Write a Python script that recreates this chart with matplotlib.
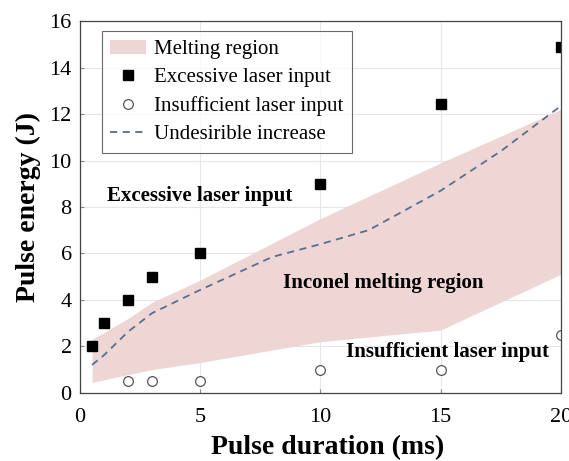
import numpy as np
import matplotlib
matplotlib.use('Agg')
import matplotlib.pyplot as plt

# melting region boundaries
region_x = [0.5, 2, 3, 5, 10, 15, 20]
region_upper = [2.3, 3.2, 3.9, 4.85, 7.5, 9.9, 12.2]
region_lower = [0.45, 0.78, 1.0, 1.3, 2.2, 2.7, 5.1]

# excessive laser input points
exc_x = [0.5, 1, 2, 3, 5, 10, 15, 20]
exc_y = [2.0, 3.0, 4.0, 5.0, 6.0, 9.0, 12.45, 14.9]

# insufficient laser input points
ins_x = [2, 3, 5, 10, 15, 20]
ins_y = [0.5, 0.5, 0.5, 1.0, 1.0, 2.5]

# undesirible increase curve
curve_x = [0.5, 1, 2, 3, 5, 8, 10, 12, 15, 17.5, 20]
curve_y = [1.2, 1.62, 2.63, 3.43, 4.43, 5.85, 6.4, 7.0, 8.7, 10.4, 12.35]

plt.rcParams['font.family'] = ['Liberation Serif', 'DejaVu Serif']

fig = plt.figure(figsize=(5.69, 4.61), dpi=100)
ax = fig.add_axes([0.1406, 0.148, 0.845, 0.806])

ax.fill_between(region_x, region_lower, region_upper, color='#eed6d4', linewidth=0,
                label='Melting region')
ax.plot(exc_x, exc_y, 's', color='black', markersize=6.5, label='Excessive laser input')
ax.plot(ins_x, ins_y, 'o', markerfacecolor='white', markeredgecolor='#555555',
        markersize=7, markeredgewidth=0.9, label='Insufficient laser input')
ax.plot(curve_x, curve_y, '--', color='#55708f', linewidth=1.3, dashes=(4, 3),
        label='Undesirible increase')

ax.set_xlim(0, 20)
ax.set_ylim(0, 16)
ax.set_xticks([0, 5, 10, 15, 20])
ax.set_yticks(np.arange(0, 17, 2))
ax.grid(True, color='#e6e6e6', linewidth=0.8)
ax.set_axisbelow(True)
ax.tick_params(labelsize=16, direction='in', length=3, color='#888888')
ax.tick_params(axis='x', pad=11)
ax.tick_params(axis='y', pad=6)
for s in ax.spines.values():
    s.set_color('#444444')
    s.set_linewidth(0.9)

ax.set_xlabel('Pulse duration (ms)', fontsize=20, fontweight='bold', labelpad=6)
ax.xaxis.set_label_coords(0.515, -0.115)
ax.set_ylabel('Pulse energy (J)', fontsize=20, fontweight='bold', labelpad=6)

ax.text(1.12, 8.48, 'Excessive laser input', fontsize=15, fontweight='bold', va='center')
ax.text(8.46, 4.73, 'Inconel melting region', fontsize=15, fontweight='bold', va='center')
ax.text(11.08, 1.75, 'Insufficient laser input', fontsize=15, fontweight='bold', va='center')

leg = ax.legend(loc='upper left', bbox_to_anchor=(0.046, 0.973), fontsize=15,
                frameon=True, fancybox=False, edgecolor='#444444', borderpad=0.4,
                labelspacing=0.42, handlelength=1.7, handletextpad=0.4, borderaxespad=0)
leg.get_frame().set_linewidth(0.8)

fig.savefig('out.png', dpi=100)
